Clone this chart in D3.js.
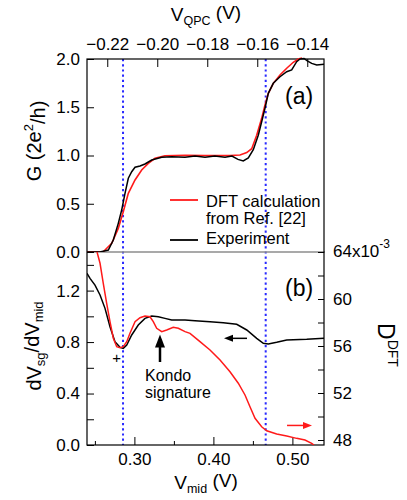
<!DOCTYPE html>
<html><head><meta charset="utf-8">
<script src="https://cdn.jsdelivr.net/npm/d3@7"></script>
<style>
body{margin:0;background:#fff;}
text{font-family:"Liberation Sans",Arial,sans-serif;fill:#000;}
</style></head>
<body><svg id="c" width="407" height="500"></svg>
<script>
// ---- data (V_mid in V) ----
const vExpA = [0.24,0.2565,0.2670,0.2733,0.2796,0.2839,0.2881,0.2923,0.2966,0.3008,0.3071,0.3134,0.3219,0.3346,0.3472,0.3641,0.3767,0.3894,0.4018,0.4147,0.4235,0.4311,0.4378,0.4442,0.4505,0.4568,0.4611,0.4653,0.4695,0.4758,0.4843,0.4928,0.4991,0.5054,0.5096,0.5147,0.5189,0.5244,0.5308,0.54];
const gExp  = [0,0,0.02,0.124,0.297,0.435,0.608,0.764,0.832,0.878,0.891,0.912,0.953,0.981,0.988,0.982,0.995,0.982,0.995,0.982,0.995,0.960,0.943,0.975,1.06,1.21,1.35,1.49,1.644,1.748,1.816,1.868,1.886,1.972,2.0,2.005,1.98,1.955,1.938,1.945];
const vDftA = [0.24,0.2603,0.2628,0.2713,0.2796,0.2859,0.2923,0.3008,0.3092,0.3176,0.3261,0.3387,0.3641,0.3900,0.4210,0.4337,0.4422,0.4485,0.4548,0.4611,0.4653,0.4695,0.4758,0.4843,0.4928,0.5011,0.5075,0.5122];
const gDft  = [0,0,0.021,0.090,0.245,0.418,0.608,0.746,0.850,0.919,0.971,0.998,1.003,1.0,1.0,1.005,1.03,1.07,1.21,1.385,1.523,1.644,1.748,1.834,1.904,1.966,2.0,2.01];
const vExpB = [0.24,0.2438,0.2501,0.2565,0.2628,0.2691,0.2754,0.2818,0.2859,0.2903,0.2966,0.3049,0.3134,0.3219,0.3303,0.3387,0.3472,0.3641,0.3767,0.3957,0.4125,0.4295,0.4422,0.4548,0.4632,0.4695,0.4801,0.4928,0.5181,0.54];
const dvExp = [1.334,1.295,1.243,1.166,1.062,0.919,0.803,0.759,0.751,0.777,0.855,0.932,0.984,1.002,0.997,0.984,0.971,0.971,0.966,0.958,0.950,0.938,0.894,0.829,0.790,0.785,0.798,0.816,0.821,0.829];
const vDftB = [0.2527,0.2565,0.2606,0.2649,0.2691,0.2733,0.2776,0.2818,0.2859,0.2903,0.2944,0.3008,0.3071,0.3134,0.3197,0.3239,0.3282,0.3346,0.3409,0.3492,0.3556,0.3641,0.3704,0.3830,0.3957,0.4084,0.4210,0.4315,0.4400,0.4463,0.4527,0.4611,0.4675,0.4801,0.4928,0.5054,0.5159,0.5244,0.5273];
const dDft  = [64.0,63.04,61.34,59.63,58.07,56.66,55.94,55.86,55.94,56.37,57.08,58.07,58.41,58.55,58.49,58.07,57.51,57.22,57.36,57.59,57.51,57.22,57.08,56.37,55.66,54.81,53.81,52.83,51.83,50.83,49.85,49.13,48.79,48.51,48.34,48.14,48.0,47.72,47.57];
const markerV = [0.2856,0.4662];
const ticksBottom = [0.30,0.40,0.50];
const ticksBottomMinor = [0.25,0.35,0.45];
const ticksTop = [-0.22,-0.20,-0.18,-0.16,-0.14];
const ticksA = [0,0.5,1.0,1.5,2.0];
const ticksB = [0,0.2,0.4,0.6,0.8,1.0,1.2,1.4];
const ticksD = [48,50,52,54,56,58,60,62,64];

const L=87,R=324,T=59,M=252,B=445;
const svg=d3.select("#c");
const x=d3.scaleLinear([0.24,0.54],[L,R]);
const xTop=d3.scaleLinear([-0.2281,-0.1333],[L,R]);
const yA=d3.scaleLinear([0,2],[M,T]);
const yB=d3.scaleLinear([0,1.5],[B,M]);
const yD=d3.scaleLinear([48,64],[440,M]);

const defs=svg.append("defs");
defs.append("clipPath").attr("id","ca").append("rect").attr("x",L).attr("y",T-2).attr("width",R-L).attr("height",M-T+2);
defs.append("clipPath").attr("id","cb").append("rect").attr("x",L).attr("y",M).attr("width",R-L).attr("height",B-M);

// blue dotted lines
svg.selectAll(".mk").data(markerV).join("line")
  .attr("x1",d=>x(d)).attr("x2",d=>x(d)).attr("y1",T).attr("y2",B)
  .attr("stroke","#2a2aff").attr("stroke-width",2).attr("stroke-dasharray","2.2,3");

// separator
svg.append("line").attr("x1",L).attr("x2",R+1).attr("y1",M).attr("y2",M).attr("stroke","#8c8c8c").attr("stroke-width",1.6);

const fs=17;
function style(g){g.select(".domain").remove();g.selectAll("text").attr("font-size",fs).attr("font-family","Liberation Sans, Arial, sans-serif");g.selectAll("line").attr("stroke","#000");}

// axes
svg.append("g").attr("transform",`translate(0,${T})`).call(d3.axisTop(xTop).tickValues(ticksTop).tickSize(-8).tickPadding(9).tickFormat(d3.format(".2f"))).call(style);
svg.append("g").attr("transform",`translate(0,${B})`).call(d3.axisBottom(x).tickValues(ticksBottom).tickSize(-8).tickPadding(8).tickFormat(d3.format(".2f"))).call(style);
svg.append("g").attr("transform",`translate(0,${B})`).call(d3.axisBottom(x).tickValues(ticksBottomMinor).tickSize(-4).tickFormat("")).call(style);
svg.append("g").attr("transform",`translate(${L},0)`).call(d3.axisLeft(yA).tickValues(ticksA).tickSize(-7).tickPadding(7).tickFormat(d3.format(".1f"))).call(style);
svg.append("g").attr("transform",`translate(${L},0)`).call(d3.axisLeft(yB).tickValues(ticksB).tickSize(-7).tickPadding(7).tickFormat(d=>(Math.round(d*10)%4===0)?d3.format(".1f")(d):"")).call(style);
const gD=svg.append("g").attr("transform",`translate(${R},0)`).call(d3.axisRight(yD).tickValues(ticksD).tickSize(-6).tickPadding(9).tickFormat(d=>(d%4===0&&d!==64)?d:"")).call(style);
const t64=svg.append("text").attr("x",R+9).attr("y",yD(64)).attr("dy","0.32em").attr("font-size",fs);
t64.append("tspan").text("64x10");
t64.append("tspan").attr("font-size",12).attr("dy","-0.75em").text("-3");

// frame
svg.append("rect").attr("x",L).attr("y",T).attr("width",R-L).attr("height",B-T).attr("fill","none").attr("stroke","#000").attr("stroke-width",1.2);

// curves
const lineA=(xs,ys)=>d3.line().x((d,i)=>x(xs[i])).y((d,i)=>yA(ys[i]))(xs);
const lineB=(xs,ys,sc)=>d3.line().x((d,i)=>x(xs[i])).y((d,i)=>sc(ys[i]))(xs);
const ga=svg.append("g").attr("clip-path","url(#ca)");
ga.append("path").attr("d",lineA(vDftA,gDft)).attr("fill","none").attr("stroke","#ff1a1a").attr("stroke-width",1.6);
ga.append("path").attr("d",lineA(vExpA,gExp)).attr("fill","none").attr("stroke","#000").attr("stroke-width",1.5);
const gb=svg.append("g").attr("clip-path","url(#cb)");
gb.append("path").attr("d",lineB(vExpB,dvExp,yB)).attr("fill","none").attr("stroke","#000").attr("stroke-width",1.5);
gb.append("path").attr("d",lineB(vDftB,dDft,yD)).attr("fill","none").attr("stroke","#ff1a1a").attr("stroke-width",1.5);

// panel labels
svg.append("text").attr("x",285).attr("y",104).attr("font-size",23).text("(a)");
svg.append("text").attr("x",285).attr("y",296).attr("font-size",23).text("(b)");

// legend
const lf=16.5;
svg.append("line").attr("x1",170).attr("x2",198).attr("y1",200).attr("y2",200).attr("stroke","#ff1a1a").attr("stroke-width",1.8);
svg.append("text").attr("x",206).attr("y",207).attr("font-size",lf).text("DFT calculation");
svg.append("text").attr("x",206).attr("y",224).attr("font-size",lf).text("from Ref. [22]");
svg.append("line").attr("x1",170).attr("x2",198).attr("y1",240).attr("y2",240).attr("stroke","#000").attr("stroke-width",1.8);
svg.append("text").attr("x",206).attr("y",244).attr("font-size",lf).text("Experiment");

// annotations
const kx=x(0.3324);
svg.append("line").attr("x1",kx).attr("x2",kx).attr("y1",yB(0.80)).attr("y2",yB(0.645)).attr("stroke","#000").attr("stroke-width",2.5);
svg.append("path").attr("d",`M${kx},${yB(0.858)} l-5,13 l10,0 z`).attr("fill","#000");
svg.append("text").attr("x",x(0.3134)).attr("y",yB(0.497)).attr("font-size",16).text("Kondo");
svg.append("text").attr("x",x(0.3134)).attr("y",yB(0.365)).attr("font-size",16).text("signature");
svg.append("text").attr("x",x(0.2776)).attr("y",yB(0.676)).attr("text-anchor","middle").attr("dy","0.35em").attr("font-size",15).text("+");
// left-pointing black arrow
const ay=yB(0.829), ax0=x(0.4134), ax1=x(0.4425);
svg.append("line").attr("x1",ax0+6).attr("x2",ax1).attr("y1",ay).attr("y2",ay).attr("stroke","#000").attr("stroke-width",1.5);
svg.append("path").attr("d",`M${ax0},${ay} l9,-3.5 l0,7 z`).attr("fill","#000");
// right-pointing red arrow
const ry=yB(0.152), rx0=x(0.4932), rx1=x(0.5248);
svg.append("line").attr("x1",rx0).attr("x2",rx1-6).attr("y1",ry).attr("y2",ry).attr("stroke","#ff1a1a").attr("stroke-width",1.5);
svg.append("path").attr("d",`M${rx1},${ry} l-9,-3.5 l0,7 z`).attr("fill","#ff1a1a");

// axis titles
const tq=svg.append("text").attr("x",206).attr("y",21).attr("text-anchor","middle").attr("font-size",19);
tq.append("tspan").text("V");
tq.append("tspan").attr("font-size",12.5).attr("dy","0.3em").text("QPC");
tq.append("tspan").attr("dy","-0.3em").text(" (V)");
const tm=svg.append("text").attr("x",206).attr("y",489).attr("text-anchor","middle").attr("font-size",19);
tm.append("tspan").text("V");
tm.append("tspan").attr("font-size",12.5).attr("dy","0.3em").text("mid");
tm.append("tspan").attr("dy","-0.3em").text(" (V)");
const tg=svg.append("text").attr("transform","translate(41,141) rotate(-90)").attr("text-anchor","middle").attr("font-size",20);
tg.append("tspan").text("G (2e");
tg.append("tspan").attr("font-size",13).attr("dy","-0.6em").text("2");
tg.append("tspan").attr("dy","0.6em").text("/h)");
const tv=svg.append("text").attr("transform","translate(41,346) rotate(-90)").attr("text-anchor","middle").attr("font-size",20);
tv.append("tspan").text("dV");
tv.append("tspan").attr("font-size",13).attr("dy","0.3em").text("sg");
tv.append("tspan").attr("dy","-0.3em").text("/dV");
tv.append("tspan").attr("font-size",13).attr("dy","0.3em").text("mid");
const td=svg.append("text").attr("transform","translate(378,345) rotate(90)").attr("text-anchor","middle").attr("font-size",23);
td.append("tspan").text("D");
td.append("tspan").attr("font-size",14).attr("dy","-0.7em").text("DFT");
</script></body></html>
